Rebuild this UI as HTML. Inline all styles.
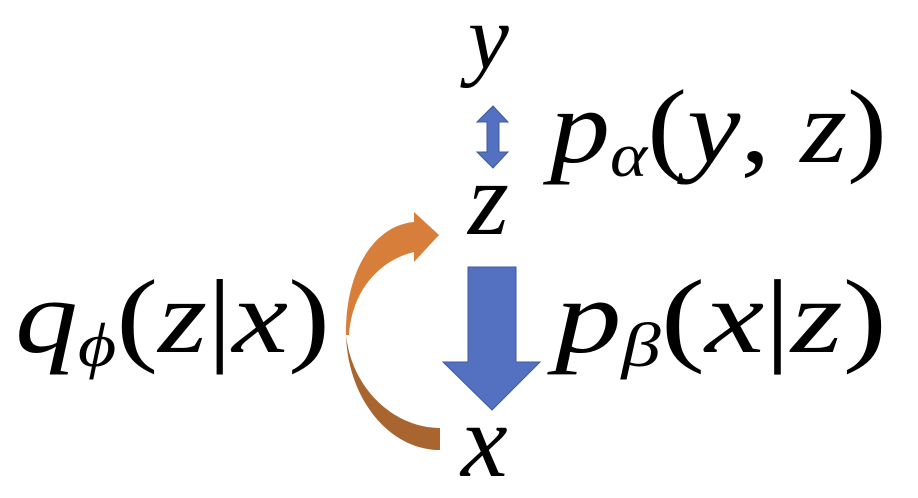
<!DOCTYPE html>
<html><head><meta charset="utf-8"><style>
html,body{margin:0;padding:0;background:#fff;}
svg{display:block;}
text{font-family:"Liberation Serif",serif;font-style:italic;fill:#000;}
.r{font-style:normal;}
</style></head><body>
<svg width="918" height="498" viewBox="0 0 918 498">
<text x="468" y="68" font-size="92">y</text>
<text x="468" y="234" font-size="105">z</text>
<text x="461" y="476" font-size="105">x</text>
<polygon points="493,106 508,122 499,122 499,152 508,152 493,168 477,152 487,152 487,122 477,122" fill="#5470C0" stroke="#3F5A9E" stroke-width="1"/>
<polygon points="468,267 516,267 516,362 540,362 492,410 443,362 468,362" fill="#5470C0" stroke="#3F5A9E" stroke-width="1"/>
<path d="M440,450 C390,450 348,400 346,335 C352,390 395,428 440,428 Z" fill="#A8652F"/>
<path d="M346,335 C345,270 375,225 414,222 L414,212 L439,235 L414,262 L414,252 C380,260 352,290 349,335 Z" fill="#D77F3A"/>
<text x="550" y="162" font-size="105" textLength="337" lengthAdjust="spacingAndGlyphs">p<tspan font-size="62" dy="14">α</tspan><tspan class="r" dy="-14">(</tspan>y<tspan class="r">, </tspan>z<tspan class="r">)</tspan></text>
<text x="555" y="352" font-size="105" textLength="332" lengthAdjust="spacingAndGlyphs">p<tspan font-size="62" dy="14">β</tspan><tspan class="r" dy="-14">(</tspan>x<tspan class="r">|</tspan>z<tspan class="r">)</tspan></text>
<text x="15" y="352" font-size="105" textLength="315" lengthAdjust="spacingAndGlyphs">q<tspan font-size="62" dy="14">ϕ</tspan><tspan class="r" dy="-14">(</tspan>z<tspan class="r">|</tspan>x<tspan class="r">)</tspan></text>
</svg>
</body></html>
